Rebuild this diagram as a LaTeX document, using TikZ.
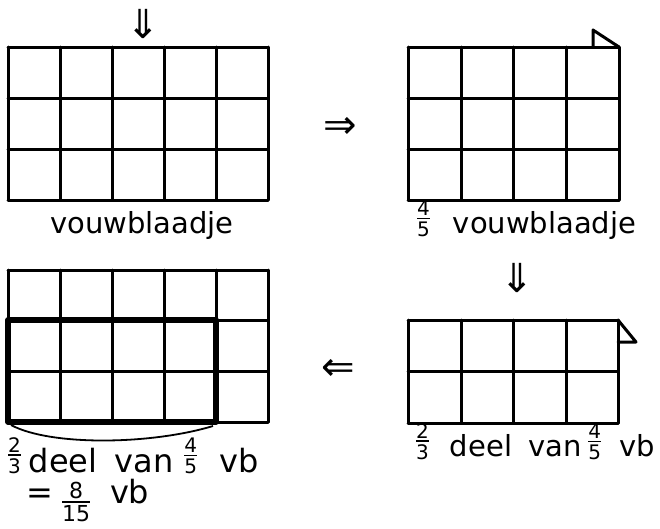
\documentclass[tikz,border=0pt]{standalone}
\usepackage{fontspec}
\setmainfont{DejaVu Sans}
\newcommand{\fr}[3][-3pt]{\raisebox{#1}{\vbox{\fontsize{20}{20}\selectfont\offinterlineskip\halign{\hfil##\hfil\cr #2\cr\noalign{\kern2pt\hrule height 1.8pt\kern2pt}#3\cr}}}}
\newcommand{\frbig}[3][-3pt]{\raisebox{#1}{\vbox{\fontsize{22}{22}\selectfont\offinterlineskip\halign{\hfil##\hfil\cr #2\cr\noalign{\kern2pt\hrule height 1.8pt\kern2pt}#3\cr}}}}
\begin{document}
\begin{tikzpicture}[x=1pt,y=-1pt,
  gridline/.style={line width=3pt,line join=round,line cap=round},
  boldline/.style={line width=5.2pt,line join=round},
  lbl/.style={inner sep=0pt,font=\fontsize{29}{32}\selectfont},
  biglbl/.style={inner sep=0pt,font=\fontsize{32}{36}\selectfont},
  arr/.style={inner sep=0pt,font=\fontsize{40}{44}\selectfont}]
\useasboundingbox (0,0) rectangle (660,528);
\fill[white] (0,0) rectangle (660,528);
% grid 1 (top left)
\foreach \x in {8,60,112,164,216,268} \draw[gridline] (\x,47) -- (\x,200);
\foreach \y in {47,98,149,200} \draw[gridline] (8,\y) -- (268,\y);
% grid 2 (top right)
\foreach \x in {408,461,513,566,619} \draw[gridline] (\x,47) -- (\x,200);
\foreach \y in {47,98,149,200} \draw[gridline] (408,\y) -- (619,\y);
\coordinate (f1a) at (593,47);
\coordinate (f1b) at (593,30);
\coordinate (f1c) at (619,47);
\draw[gridline] (f1a) -- (f1b) -- (f1c);
% grid 3 (bottom right)
\foreach \x in {408,461,513,566,618} \draw[gridline] (\x,320) -- (\x,423);
\foreach \y in {320,371,423} \draw[gridline] (408,\y) -- (618,\y);
\coordinate (f2a) at (618,320);
\coordinate (f2b) at (636,342);
\coordinate (f2c) at (618,342);
\draw[gridline] (f2a) -- (f2b) -- (f2c);
% grid 4 (bottom left)
\foreach \x in {8,60,112,164,216,268} \draw[gridline] (\x,270) -- (\x,422);
\foreach \y in {270,320,371,422} \draw[gridline] (8,\y) -- (268,\y);
\draw[boldline] (8,320) rectangle (216,422);
\coordinate (c1) at (11,425);
\coordinate (c2) at (213,426);
\draw[line width=1.8pt] (c1) .. controls (50,446) and (150,445) .. (c2);
% arrows
\node[arr] (a1) at (143,24) {⇓};
\node[arr] (a2) at (340,128) {⇒};
\node[arr] (a3) at (517,278) {⇓};
\node[arr] (a4) at (338,370) {⇐};
% labels
\node[lbl,anchor=base] (t1) at (142,233) {vouwblaadje};
\node[lbl,anchor=base west] (t2) at (417,233) {\fr{4}{5}\hspace{23pt}vouwblaadje};
\node[lbl,anchor=base west] (t3) at (416,456) {\fr{2}{3}\hspace{21pt}deel\hspace{16pt}van\hspace{7pt}\fr{4}{5}\hspace{18pt}vb};
\node[biglbl,anchor=base west] (t4) at (8,472) {\fr[-1pt]{2}{3}\hspace{8pt}deel\hspace{17pt}van\hspace{11pt}\fr[-1pt]{4}{5}\hspace{22pt}vb};
\node[biglbl,anchor=base west] (t5) at (26,503) {=\hspace{9pt}\frbig[-18pt]{8}{15}\hspace{20pt}vb};
\end{tikzpicture}
\end{document}
